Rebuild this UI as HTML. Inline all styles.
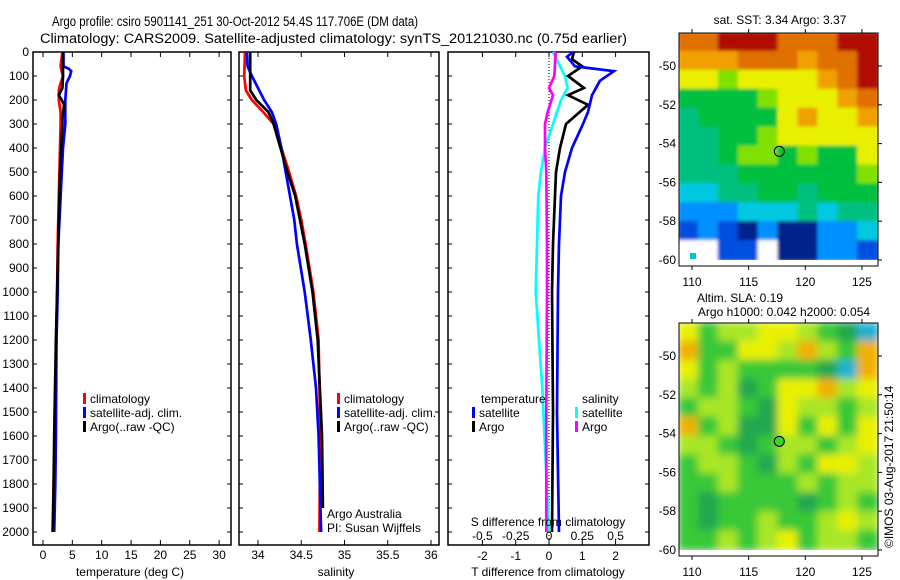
<!DOCTYPE html>
<html><head><meta charset="utf-8"><style>
body{margin:0;background:#fff;}
svg{display:block;font-family:"Liberation Sans",sans-serif;}
</style></head><body>
<svg id="c" width="900" height="580" xmlns="http://www.w3.org/2000/svg">
<defs><filter id="bl" x="0" y="0" width="1" height="1"><feGaussianBlur stdDeviation="4"/></filter>
<filter id="bl1" x="0" y="0" width="1" height="1"><feGaussianBlur stdDeviation="1.5"/></filter>
<clipPath id="m1c"><rect x="679" y="33" width="199" height="233"/></clipPath>
<clipPath id="m2c"><rect x="679" y="323" width="199" height="234"/></clipPath></defs>
<text x="52" y="26" font-size="13.5" textLength="366" lengthAdjust="spacingAndGlyphs">Argo profile: csiro 5901141_251 30-Oct-2012 54.4S 117.706E (DM data)</text>
<text x="40" y="43" font-size="13.5" textLength="587" lengthAdjust="spacingAndGlyphs">Climatology: CARS2009. Satellite-adjusted climatology: synTS_20121030.nc (0.75d earlier)</text>
<g id="g"></g>
</svg>
<script>
// depth axis data
const depthTicks=[0,100,200,300,400,500,600,700,800,900,1000,1100,1200,1300,1400,1500,1600,1700,1800,1900,2000];
// temperature panel
const tempTicks=[0,5,10,15,20,25,30];
const tClimD=[0,60,100,130,160,200,250,300,500,800,1000,1300,1500,1700,1900,2000];
const tClimV=[3.3,3.0,3.4,3.0,2.7,2.7,3.0,3.0,2.8,2.5,2.4,2.2,2.0,1.9,1.7,1.6];
const tSatD=[0,60,70,80,100,130,200,300,400,500,800,1000,1200,1600,1800,2000];
const tSatV=[3.5,3.5,4.4,4.8,4.6,4.0,3.8,3.8,3.4,3.2,2.6,2.5,2.3,2.2,2.1,1.9];
const tArgD=[0,100,150,180,200,220,280,300,500,800,1000,1200,1600,2000];
const tArgV=[3.4,3.4,3.3,2.7,3.2,3.6,3.3,3.3,2.9,2.6,2.4,2.2,1.9,1.7];
// salinity panel
const salTicks=[34,34.5,35,35.5,36];
const sClimD=[0,100,160,200,250,300,400,500,600,700,800,1000,1200,1600,2000];
const sClimV=[33.85,33.84,33.86,33.93,34.06,34.18,34.27,34.36,34.44,34.50,34.55,34.64,34.70,34.72,34.71];
const sSatD=[0,60,100,200,250,300,400,500,600,700,800,1000,1200,1400,1600,2000];
const sSatV=[33.87,33.88,33.93,34.07,34.16,34.21,34.27,34.32,34.37,34.42,34.45,34.54,34.61,34.67,34.70,34.73];
const sArgD=[0,160,200,250,300,400,500,600,800,1000,1200,1600,1900];
const sArgV=[33.91,33.91,33.98,34.12,34.18,34.26,34.34,34.43,34.54,34.63,34.69,34.74,34.75];
// difference panel
const dTTicks=[-2,-1,0,1,2];
const dSTicks=["-0.5","-0.25","0","0.25","0.5"];
const dTSatD=[0,20,60,80,120,180,250,300,400,500,600,800,1000,1500,2000];
const dTSatV=[0.72,0.54,0.78,1.95,1.53,1.29,1.17,1.02,0.69,0.48,0.36,0.30,0.27,0.24,0.30];
const dTArgD=[0,30,60,100,150,180,220,300,400,500,600,800,1000,1500,2000];
const dTArgV=[0.75,0.69,1.0,0.57,1.05,0.57,1.17,0.51,0.33,0.21,0.18,0.12,0.09,0.12,0.09];
const dSSatD=[0,100,150,200,300,400,500,600,800,1000,1400,2000];
const dSSatV=[0.03,0.12,0.14,0.09,0.03,-0.03,-0.06,-0.08,-0.09,-0.10,-0.05,0.0];
const dSArgD=[0,100,150,180,250,300,400,500,800,1000,1500,2000];
const dSArgV=[0.05,0.04,0.0,0.03,-0.01,-0.03,-0.03,-0.02,-0.015,-0.015,-0.02,-0.02];
// maps
const lonTicks=[110,115,120,125];
const latTicks=[-50,-52,-54,-56,-58,-60];
const sstGrid=[
[10,10,11,11,11,10,10,10,11,11],[9,9,9,10,10,10,9,10,10,11],[8,8,7,8,8,8,8,9,10,11],
[6,6,6,6,7,8,8,8,9,10],[5,6,6,6,6,8,9,8,8,9],[5,5,6,6,7,8,8,8,8,8],[5,5,6,7,7,6,7,6,6,8],
[5,5,5,6,6,6,6,6,6,7],[4,4,5,5,6,6,5,6,6,6],[3,3,3,4,4,4,5,4,5,5],[2,3,2,1,3,1,1,3,3,4],[0,0,2,2,0,1,1,3,3,2]];
const slaGrid=[
[8,6,7,7,8,8,7,6,5,4],[9,6,6,8,8,7,9,7,6,9],[8,6,7,6,6,6,6,5,4,9],[7,6,7,5,6,8,8,9,7,8],
[6,7,7,6,5,8,7,7,6,7],[9,6,7,5,5,8,6,8,6,8],[7,7,6,5,6,7,7,6,7,8],[6,7,7,6,5,7,6,8,8,7],
[6,6,7,6,6,6,7,6,7,7],[6,5,6,6,6,6,5,6,7,6],[6,5,6,6,7,6,6,7,8,7],[6,6,7,6,7,8,6,7,7,6]];
const floatLon=117.706, floatLat=-54.4;

const NS="http://www.w3.org/2000/svg", G=document.getElementById('g');
function el(t,a,p){const e=document.createElementNS(NS,t);for(const k in a)e.setAttribute(k,a[k]);(p||G).appendChild(e);return e;}
function tx(x,y,s,o){const e=el('text',Object.assign({x:x,y:y,'font-size':12},o||{}));e.textContent=s;return e;}
const yD=d=>52+0.24*d;
const xT=v=>43+v*5.87, xS=v=>258+(v-34)*86.5, xDT=v=>549+v*33.3, xDS=v=>549+v*133.2;
function line(D,V,fx,col,name){const pts=D.map((d,i)=>fx(V[i]).toFixed(1)+','+yD(d).toFixed(1)).join(' ');
 const p=el('polyline',{points:pts,fill:'none',stroke:col,'stroke-width':2.7});
 
 }
function frame(x0,x1,name){const r=el('rect',{x:x0,y:52,width:x1-x0,height:493,fill:'none',stroke:'#000','stroke-width':1.5});
 
 
 depthTicks.forEach(d=>{el('line',{x1:x0,x2:x0+4,y1:yD(d),y2:yD(d),stroke:'#000'});el('line',{x1:x1-4,x2:x1,y1:yD(d),y2:yD(d),stroke:'#000'});});}
// panel 1
frame(33,231,'temperature-panel');
depthTicks.forEach(d=>{const t=tx(29,yD(d)+4,String(d),{'text-anchor':'end'});});
tempTicks.forEach(v=>{el('line',{x1:xT(v),x2:xT(v),y1:52,y2:57,stroke:'#000'});el('line',{x1:xT(v),x2:xT(v),y1:540,y2:545,stroke:'#000'});const t=tx(xT(v),559,String(v),{'text-anchor':'middle'});});
let t1=tx(130,576,'temperature (deg C)',{'text-anchor':'middle'});
line(tClimD,tClimV,xT,'#f00','temp-climatology-line');
line(tSatD,tSatV,xT,'#00f','temp-satellite-line');
line(tArgD,tArgV,xT,'#000','temp-argo-line');
// panel 2
frame(239,439,'salinity-panel');
salTicks.forEach(v=>{el('line',{x1:xS(v),x2:xS(v),y1:52,y2:57,stroke:'#000'});el('line',{x1:xS(v),x2:xS(v),y1:540,y2:545,stroke:'#000'});const t=tx(xS(v),559,String(v),{'text-anchor':'middle'});});
let t2=tx(336,576,'salinity',{'text-anchor':'middle'});
line(sClimD,sClimV,xS,'#f00','sal-climatology-line');
line(sSatD,sSatV,xS,'#00f','sal-satellite-line');
line(sArgD,sArgV,xS,'#000','sal-argo-line');
function legend(x,y,items,nm){items.forEach((it,i)=>{el('rect',{x:x,y:y+i*14-10,width:3,height:11,fill:it[1]});const t=tx(x+7,y+i*14,it[0]);});}
const L=[['climatology','#f00'],['satellite-adj. clim.','#00f'],['Argo(..raw -QC)','#000']];
legend(83,403,L,'legend-entry');legend(337,403,L,'legend-entry');
tx(327,518,'Argo Australia');tx(327,532,'PI: Susan Wijffels');
// panel 3
frame(448,649,'difference-panel');
el('line',{x1:549,x2:549,y1:52,y2:545,stroke:'#000','stroke-dasharray':'1,2'});
dTTicks.forEach(v=>{el('line',{x1:xDT(v),x2:xDT(v),y1:52,y2:57,stroke:'#000'});el('line',{x1:xDT(v),x2:xDT(v),y1:540,y2:545,stroke:'#000'});const t=tx(xDT(v),560,String(v),{'text-anchor':'middle'});});
line(dSSatD,dSSatV,xDS,'#0ff','s-diff-satellite-line');
line(dSArgD,dSArgV,xDS,'#f0f','s-diff-argo-line');
line(dTArgD,dTArgV,xDT,'#000','t-diff-argo-line');
line(dTSatD,dTSatV,xDT,'#00f','t-diff-satellite-line');
dSTicks.forEach(v=>{const t=tx(xDS(parseFloat(v)),540,v,{'text-anchor':'middle'});});
let t3=tx(548,526,'S difference from climatology',{'text-anchor':'middle'});
let t4=tx(548,576,'T difference from climatology',{'text-anchor':'middle'});
tx(481,403,'temperature');tx(582,403,'salinity');
legend(472,417,[['satellite','#00f'],['Argo','#000']],'legend-entry');
legend(575,417,[['satellite','#0ff'],['Argo','#f0f']],'legend-entry');
// maps
const pal1=['#fff','#00208c','#0050e0','#0090ff','#00c8e0','#00c080','#00c040','#80e000','#e8f000','#f0a000','#e07000','#b01000'];
const pal2=['#fff','#fff','#fff','#fff','#20b0d0','#20a850','#38c838','#a8e628','#e8f000','#f0b000'];
const xL=v=>692+(v-110)*11.33;
function map(y0,y1,grid,pal,cid,filt,latY,name,fillMarker){
 const g=el('g',{'clip-path':'url(#'+cid+')'});
 const inner=el('g',{filter:'url(#'+filt+')'},g);
 const cw=199/grid[0].length,ch=(y1-y0)/grid.length;
 grid.forEach((r,i)=>r.forEach((c,j)=>el('rect',{x:679+j*cw-1,y:y0+i*ch-1,width:cw+2,height:ch+2,fill:pal[c]},inner)));
 el('rect',{x:679,y:y1,width:199,height:8,fill:'#fff'},g);
 el('rect',{x:679,y:y0,width:199,height:y1-y0+6,fill:'none',stroke:'#000'});
 lonTicks.forEach(v=>{el('line',{x1:xL(v),x2:xL(v),y1:y0,y2:y0-4,stroke:'#000'});el('line',{x1:xL(v),x2:xL(v),y1:y1+6,y2:y1+10,stroke:'#000'});const t=tx(xL(v),y1+26,String(v),{'text-anchor':'middle'});});
 latTicks.forEach(v=>{const yy=latY(v);el('line',{x1:878,x2:882,y1:yy,y2:yy,stroke:'#000'});const t=tx(676,yy+4,String(v),{'text-anchor':'end'});});
 const c=el('circle',{cx:xL(floatLon),cy:latY(floatLat),r:5,fill:fillMarker?'#40d030':'none',stroke:'#000'});
}
map(33,260,sstGrid,pal1,'m1c','bl1',v=>66-(v+50)*19.4,'sst-map',false);
el('rect',{x:690,y:253,width:6,height:6,fill:'#00c8d0'});
map(323,550,slaGrid,pal2,'m2c','bl',v=>356-(v+50)*19.4,'sla-map',true);
let m1=tx(780,24,'sat. SST: 3.34  Argo: 3.37',{'text-anchor':'middle'});
let m2=tx(740,302,'Altim. SLA: 0.19',{'text-anchor':'middle'});
let m3=tx(784,316,'Argo h1000: 0.042 h2000: 0.054',{'text-anchor':'middle'});
let cr=tx(0,0,'©IMOS 03-Aug-2017 21:50:14',{transform:'translate(893,548) rotate(-90)'});
</script>
</body></html>
